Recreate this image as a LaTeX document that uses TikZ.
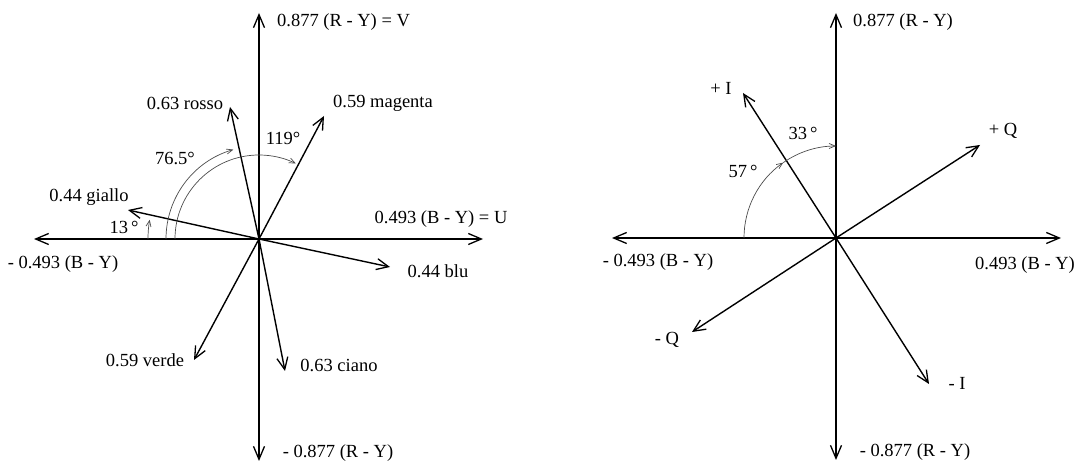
\documentclass[tikz,border=0pt]{standalone}
\usepackage{fontspec}
\setmainfont{Liberation Serif}
\usetikzlibrary{arrows.meta}
\begin{document}
\begin{tikzpicture}[x=1pt,y=1pt,
  axis/.style={line width=1.5pt,-{Straight Barb[length=13pt,width=11pt,line width=1.3pt]}},
  vec/.style={line width=1.4pt,-{Straight Barb[length=12pt,width=11pt,line width=1.3pt]}},
  anglearc/.style={line width=0.7pt,draw=black!70,-{Straight Barb[length=6pt,width=5pt,line width=0.7pt]}},
  plainarc/.style={line width=0.7pt,draw=black!70},
  lbl/.style={font=\fontsize{18.5}{20}\selectfont,inner sep=0pt,text=black}]
\useasboundingbox (0,0) rectangle (1080,463);

% ---------- left diagram ----------
\coordinate (O1) at (259,224);
\coordinate (L1top) at (259,450);
\coordinate (L1bot) at (259,2);
\coordinate (L1left) at (34,224);
\coordinate (L1right) at (483,224);
\coordinate (rosso) at (230,356);
\coordinate (magenta) at (324,347);
\coordinate (giallo) at (128,253);
\coordinate (blu) at (390,196);
\coordinate (verde) at (194,103);
\coordinate (ciano) at (285,92);

\draw[axis] (O1) -- (L1top);
\draw[axis] (O1) -- (L1bot);
\draw[axis] (O1) -- (L1left);
\draw[axis] (O1) -- (L1right);
\draw[vec] (O1) -- (rosso);
\draw[vec] (O1) -- (magenta);
\draw[vec] (O1) -- (giallo);
\draw[vec] (O1) -- (blu);
\draw[vec] (O1) -- (verde);
\draw[vec] (O1) -- (ciano);

\draw[anglearc] ([shift={(180:111)}]O1) arc[start angle=180,end angle=170,radius=111];
\draw[anglearc] ([shift={(180:93)}]O1) arc[start angle=180,end angle=106,radius=93];
\draw[anglearc] ([shift={(180:84)}]O1) arc[start angle=180,end angle=64,radius=84];

\node[lbl,anchor=west] (lV) at (277,441) {0.877 (R - Y) = V};
\node[lbl] (lrosso) at (185,360) {0.63 rosso};
\node[lbl] (lmagenta) at (383,360) {0.59 magenta};
\node[lbl] (l119) at (283,325) {119°};
\node[lbl] (l765) at (175,305) {76.5°};
\node[lbl] (lgiallo) at (89,266) {0.44 giallo};
\node[lbl] (l13) at (124,236) {13\,°};
\node[lbl] (lU) at (441,244) {0.493 (B - Y) = U};
\node[lbl] (lmBY1) at (63,199) {- 0.493 (B - Y)};
\node[lbl] (lblu) at (438,192) {0.44 blu};
\node[lbl] (lverde) at (145,103) {0.59 verde};
\node[lbl] (lciano) at (339,98) {0.63 ciano};
\node[lbl] (lmRY1) at (338,10) {- 0.877 (R - Y)};

% ---------- right diagram ----------
\coordinate (O2) at (836,225);
\coordinate (R2top) at (836,450);
\coordinate (R2bot) at (836,3);
\coordinate (R2left) at (612,225);
\coordinate (R2right) at (1061,225);
\coordinate (pI) at (743,370);
\coordinate (mI) at (929,79);
\coordinate (pQ) at (980,318);
\coordinate (mQ) at (692,131);

\draw[axis] (O2) -- (R2top);
\draw[axis] (O2) -- (R2bot);
\draw[axis] (O2) -- (R2left);
\draw[axis] (O2) -- (R2right);
\draw[vec] (O2) -- (pI);
\draw[vec] (O2) -- (mI);
\draw[vec] (O2) -- (pQ);
\draw[vec] (O2) -- (mQ);

\draw[anglearc] ([shift={(180:92)}]O2) arc[start angle=180,end angle=125,radius=92];
\draw[anglearc] ([shift={(125:92)}]O2) arc[start angle=125,end angle=90,radius=92];

\node[lbl,anchor=west] (rRY) at (853,441) {0.877 (R - Y)};
\node[lbl] (rpI) at (721,375) {+ I};
\node[lbl] (r33) at (803,330) {33\,°};
\node[lbl] (r57) at (743,292) {57\,°};
\node[lbl] (rpQ) at (1003,332) {+ Q};
\node[lbl] (rmBY) at (658,201) {- 0.493 (B - Y)};
\node[lbl] (rBY) at (1025,198) {0.493 (B - Y)};
\node[lbl] (rmQ) at (667,123) {- Q};
\node[lbl] (rmI) at (957,80) {- I};
\node[lbl] (rmRY) at (915,11) {- 0.877 (R - Y)};
\end{tikzpicture}
\end{document}
